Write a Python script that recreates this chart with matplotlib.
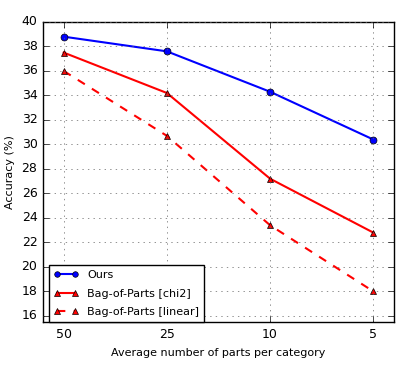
import numpy as np
import matplotlib
matplotlib.use("Agg")
import matplotlib.pyplot as plt

plt.style.use("classic")

parts = ["50", "25", "10", "5"]
ours = [38.8, 37.6, 34.3, 30.4]
bop_chi2 = [37.5, 34.2, 27.2, 22.8]
bop_linear = [36.0, 30.7, 23.4, 18.0]

x = np.arange(len(parts))

fig = plt.figure(figsize=(4.07, 3.66), dpi=100, facecolor="white")
ax = fig.add_axes([0.1057, 0.1202, 0.8623, 0.8198])

ax.plot(x, ours, "b-o", linewidth=1.5, markersize=5, label="Ours")
ax.plot(x, bop_chi2, "r-^", linewidth=1.5, markersize=5, label="Bag-of-Parts [chi2]")
ax.plot(x, bop_linear, "r--^", linewidth=1.5, markersize=5, label="Bag-of-Parts [linear]")

ax.set_xlim(-0.2, 3.2)
ax.set_ylim(15.5, 40)
ax.set_xticks(x)
ax.set_xticklabels(parts)
ax.set_yticks(np.arange(16, 41, 2))
ax.tick_params(labelsize=9)
ax.set_xlabel("Average number of parts per category", fontsize=8)
ax.set_ylabel("Accuracy (%)", fontsize=8)
ax.grid(True, color="0.4")
leg = ax.legend(loc="lower left", fontsize=8, numpoints=2, handlelength=2.2,
                markerscale=0.8, labelspacing=0.75, borderpad=0.45,
                borderaxespad=0, bbox_to_anchor=(0.017, 0.0))
leg.get_frame().set_linewidth(1.0)

fig.savefig("out.png", dpi=100, facecolor="white")
